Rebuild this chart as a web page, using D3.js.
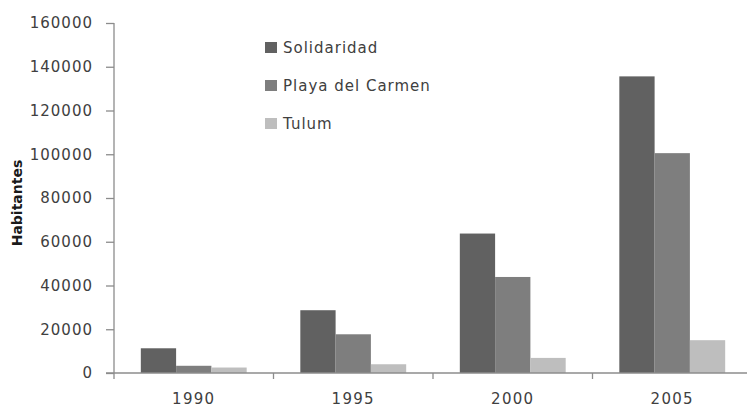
<!DOCTYPE html>
<html><head><meta charset="utf-8">
<script src="https://cdn.jsdelivr.net/npm/d3@7"></script>
<style>body{margin:0;background:#fff;} svg{display:block;}</style>
</head><body>
<svg id="c" width="747" height="408"></svg>
<script>
const years = ["1990", "1995", "2000", "2005"];
const seriesNames = ["Solidaridad", "Playa del Carmen", "Tulum"];
const solidaridad = [11300, 28700, 63750, 135600];
const playa = [3300, 17700, 43900, 100500];
const tulum = [2500, 4000, 6900, 15000];
const yTicks = [0, 20000, 40000, 60000, 80000, 100000, 120000, 140000, 160000];
const colors = ["#616161", "#7e7e7e", "#bebebe"];
const values = [solidaridad, playa, tulum];

const svg = d3.select("#c");
const font = "'DejaVu Sans', Verdana, sans-serif";
const axisColor = "#8c8c8c";
const textColor = "#404040";

const x0 = d3.scaleBand().domain(years).range([114, 752]).paddingInner(0).paddingOuter(0);
const x1 = d3.scaleBand().domain(seriesNames).range([0, x0.bandwidth()]).paddingInner(0).paddingOuter(0.76);
const y = d3.scaleLinear().domain([0, 160000]).range([373, 23]);

// bars
years.forEach((yr, i) => {
  seriesNames.forEach((s, j) => {
    const v = values[j][i];
    svg.append("rect")
      .attr("x", x0(yr) + x1(s))
      .attr("y", y(v))
      .attr("width", x1.bandwidth())
      .attr("height", y(0) - y(v))
      .attr("fill", colors[j]);
  });
});

// y axis
const yAxis = d3.axisLeft(y).tickValues(yTicks).tickSize(8).tickPadding(13).tickFormat(d3.format("d"));
const gy = svg.append("g").attr("transform", "translate(114,0)").call(yAxis);
gy.select(".domain").attr("stroke", axisColor).attr("stroke-width", 1.3).attr("d", "M0,23V373");
gy.selectAll(".tick line").attr("stroke", axisColor).attr("stroke-width", 1.3);
gy.selectAll(".tick text").attr("fill", textColor).style("font-family", font)
  .style("font-size", "15px").style("letter-spacing", "1px");

// x axis
svg.append("line").attr("x1", 106).attr("x2", 752).attr("y1", y(0)).attr("y2", y(0))
  .attr("stroke", axisColor).attr("stroke-width", 1.3);
const boundaries = years.map(yr => x0(yr)).concat([x0.range()[1]]);
svg.selectAll(".xtick").data(boundaries).enter().append("line")
  .attr("x1", d => d).attr("x2", d => d).attr("y1", y(0)).attr("y2", y(0) + 6)
  .attr("stroke", axisColor).attr("stroke-width", 1.3);
const gx = svg.append("g").attr("transform", `translate(0,${y(0)})`)
  .call(d3.axisBottom(x0).tickSize(0).tickPadding(20));
gx.select(".domain").remove();
gx.selectAll(".tick text").attr("fill", textColor).style("font-family", font)
  .style("font-size", "15px").style("letter-spacing", "1.3px");

// y title
svg.append("text").attr("transform", "translate(22,203) rotate(-90)")
  .attr("text-anchor", "middle").attr("fill", "#1a1a1a")
  .style("font-family", font).style("font-size", "14px").style("font-weight", "bold")
  .text("Habitantes");

// legend
const lg = svg.append("g").attr("transform", "translate(265,42)");
seriesNames.forEach((s, j) => {
  const g = lg.append("g").attr("transform", `translate(0,${j * 38})`);
  g.append("rect").attr("width", 12).attr("height", 11).attr("fill", colors[j]);
  g.append("text").attr("x", 18).attr("y", 11).attr("fill", textColor)
    .style("font-family", font).style("font-size", "15px").style("letter-spacing", "1px").text(s);
});
</script>
</body></html>
